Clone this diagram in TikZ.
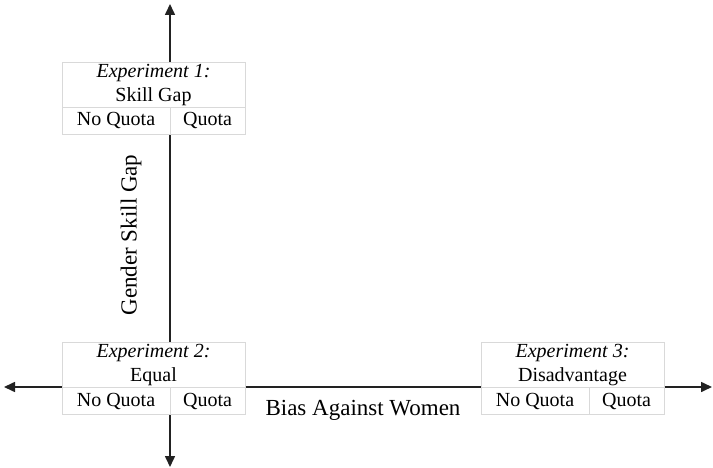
\documentclass[tikz,border=0pt]{standalone}
\usepackage{fontspec}
\setmainfont{Liberation Serif}
\usetikzlibrary{arrows.meta}
\definecolor{boxline}{HTML}{D9D9D9}
\definecolor{axisline}{HTML}{222222}
\tikzset{
  axis/.style={draw=axisline, line width=1.6pt, {Triangle[length=11pt,width=10pt]}-{Triangle[length=11pt,width=10pt]}},
  header/.style={draw=boxline, line width=0.8pt, fill=white, minimum width=183pt, minimum height=45pt, inner sep=0pt, align=center, font=\fontsize{20}{24}\selectfont},
  cell/.style={draw=boxline, line width=0.8pt, fill=white, minimum height=27pt, inner sep=0pt, font=\fontsize{20}{24}\selectfont},
  leftcell/.style={cell, minimum width=108pt},
  rightcell/.style={cell, minimum width=75pt},
  axlabel/.style={font=\fontsize{23}{26}\selectfont, inner sep=0pt}
}
\begin{document}
\begin{tikzpicture}[x=1pt,y=-1pt]
\useasboundingbox (0,0) rectangle (713,468);
\coordinate (vtop) at (170,4);
\coordinate (vbot) at (170,467);
\coordinate (hleft) at (4,387);
\coordinate (hright) at (712,387);
\draw[axis] (vbot) -- (vtop);
\draw[axis] (hleft) -- (hright);
% Experiment 1
\node[header] (h1) at (153.5,85) {\textit{Experiment 1:}\\Skill Gap};
\node[leftcell] (n1) at (116,121) {No Quota};
\node[rightcell] (q1) at (207.5,121) {Quota};
% Experiment 2
\node[header] (h2) at (153.5,365) {\textit{Experiment 2:}\\Equal};
\node[leftcell] (n2) at (116,401) {No Quota};
\node[rightcell] (q2) at (207.5,401) {Quota};
% Experiment 3
\node[header] (h3) at (572.5,365) {\textit{Experiment 3:}\\Disadvantage};
\node[leftcell] (n3) at (535,401) {No Quota};
\node[rightcell] (q3) at (626.5,401) {Quota};
% axis labels
\node[axlabel, rotate=90] (ylab) at (131,235) {Gender Skill Gap};
\node[axlabel] (xlab) at (363,410) {Bias Against Women};
\end{tikzpicture}
\end{document}
